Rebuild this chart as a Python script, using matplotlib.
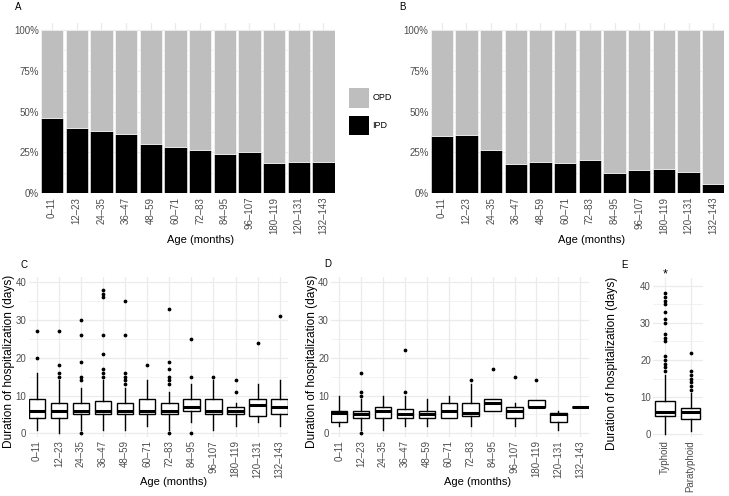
import matplotlib
matplotlib.use("Agg")
import matplotlib.pyplot as plt
from matplotlib.patches import Patch

plt.rcParams["font.family"] = ["Liberation Sans", "DejaVu Sans"]

# --------------------------------------------
# Data
# --------------------------------------------
age_groups = ["0\u201311", "12\u201323", "24\u201335", "36\u201347", "48\u201359", "60\u201371",
              "72\u201383", "84\u201395", "96\u2013107", "180\u2013119", "120\u2013131", "132\u2013143"]

# share of IPD (%) per age group, panels A and B
ipd_a = [45.9, 39.8, 38.4, 36.1, 30.0, 28.2, 26.3, 24.3, 25.5, 18.4, 19.4, 19.4]
ipd_b = [34.9, 35.7, 26.7, 18.0, 19.0, 18.8, 20.2, 12.7, 14.1, 15.1, 12.9, 5.9]

# panel C boxplots (duration of hospitalization, days)
c_q1 = [4, 4, 5, 5, 5, 5, 5, 6, 5, 5, 4.5, 5]
c_med = [6, 6, 6, 6, 6, 6, 6, 7, 6, 6, 7.5, 7]
c_q3 = [9, 8, 8, 8.5, 8, 9, 8, 9, 9, 7, 9, 9]
c_lo = [1, 0, 1, 1, 1, 2, 1, 3, 1, 2, 3, 2]
c_hi = [16, 14, 12, 14, 12, 14, 11, 13, 14, 8, 13, 14]
c_out = [[20, 27], [15, 16, 18, 27], [0, 14, 15, 19, 26, 30],
         [15, 16, 17, 21, 26, 36, 37, 38], [13, 14, 15, 16, 26, 35], [18],
         [0, 13, 14, 15, 17, 19, 33], [0, 15, 25], [15], [11, 14], [24], [31]]

# panel D boxplots
d_q1 = [3, 4, 4, 4, 4, 4, 4.5, 6, 4, 7, 3, 7]
d_med = [5.5, 5, 6, 5, 5, 6, 5.5, 8, 6, 7, 5, 7]
d_q3 = [6, 6, 7, 6.5, 6, 8, 8, 9, 7, 8.75, 5.5, 7]
d_lo = [2, 1, 1, 2, 2, 4, 2, 6, 2, 7, 1, 7]
d_hi = [10, 9, 10, 10, 9, 10, 13, 9, 8, 8.75, 6, 7]
d_out = [[], [0, 10, 11, 16], [], [11, 22], [], [], [14], [17], [15], [14], [], []]

# panel E boxplots
fever_types = ["Typhoid", "Paratyphoid"]
e_q1 = [5, 4]
e_med = [6, 6]
e_q3 = [9, 7]
e_lo = [0, 1]
e_hi = [16, 11]
e_out = [[17, 18, 19, 20, 21, 25, 26, 27, 30, 31, 33, 35, 36, 37, 38],
         [12, 13, 14, 15, 16, 17, 22]]

opd_color = "#BEBEBE"
ipd_color = "black"
grid_color = "#EBEBEB"
tick_color = "#4D4D4D"

W, H = 729, 496
fig = plt.figure(figsize=(W / 100, H / 100), dpi=100)


def rect(l, t, r, b):
    return [l / W, 1 - b / H, (r - l) / W, (b - t) / H]


def fpt(x, y):
    return (x / W, 1 - y / H)


def style(ax):
    for s in ax.spines.values():
        s.set_visible(False)
    ax.set_axisbelow(True)
    ax.grid(which="major", color=grid_color, linewidth=0.9)
    ax.grid(which="minor", axis="y", color=grid_color, linewidth=0.45)
    ax.tick_params(which="both", length=0, pad=2.5, labelsize=7, colors=tick_color)
    ax.tick_params(axis="y", which="both", pad=1.5)


def make_stats(q1, med, q3, lo, hi, out):
    return [dict(q1=a, med=b, q3=c, whislo=d, whishi=e, fliers=f)
            for a, b, c, d, e, f in zip(q1, med, q3, lo, hi, out)]


# --------------------------------------------
# Panels A and B: stacked proportions
# --------------------------------------------
def bar_panel(r, ipd, label_x):
    ax = fig.add_axes(r)
    x = list(range(len(age_groups)))
    opd = [100 - v for v in ipd]
    ax.bar(x, ipd, width=0.9, color=ipd_color, edgecolor="white", linewidth=0.4)
    ax.bar(x, opd, bottom=ipd, width=0.9, color=opd_color, edgecolor="white", linewidth=0.4)
    ax.set_xlim(-0.45, len(age_groups) - 0.55)
    ax.set_ylim(0, 104.1)
    ax.set_yticks([0, 25, 50, 75, 100])
    ax.set_yticklabels(["0%", "25%", "50%", "75%", "100%"])
    ax.set_yticks([12.5, 37.5, 62.5, 87.5], minor=True)
    ax.set_xticks(x)
    ax.set_xticklabels(age_groups, rotation=90)
    style(ax)
    ax.set_xlabel("Age (months)", fontsize=8)
    ax.xaxis.set_label_coords(*fpt(label_x, 235), transform=fig.transFigure)
    return ax


ax_a = bar_panel(rect(41, 23.3, 334.5, 193.3), ipd_a, 200.7)
ax_b = bar_panel(rect(430.7, 23.3, 724.3, 193.3), ipd_b, 592)

fig.legend(handles=[Patch(facecolor=opd_color, label="OPD"),
                    Patch(facecolor=ipd_color, label="IPD")],
           loc="upper left", bbox_to_anchor=fpt(349, 87.7), frameon=False,
           fontsize=6.5, handlelength=2.2, handleheight=3.0, handletextpad=0.4,
           labelspacing=0.9, borderpad=0, borderaxespad=0)

# --------------------------------------------
# Panels C, D, E: boxplots
# --------------------------------------------
box_kw = dict(widths=0.75, showcaps=False, patch_artist=True,
              boxprops=dict(facecolor="white", edgecolor="black", linewidth=1.0),
              medianprops=dict(color="black", linewidth=2.2, solid_capstyle="butt"),
              whiskerprops=dict(color="black", linewidth=1.0),
              flierprops=dict(marker="o", markersize=1.7, markerfacecolor="black",
                              markeredgecolor="black", linestyle="none"))


def box_panel(r, stats, labels, ylim, xlim, xlabel_x, ylabel_pos):
    ax = fig.add_axes(r)
    pos = list(range(1, len(labels) + 1))
    ax.bxp(stats, positions=pos, **box_kw)
    ax.set_xlim(*xlim)
    ax.set_ylim(*ylim)
    ax.set_xticks(pos)
    ax.set_xticklabels(labels, rotation=90)
    ax.set_yticks([0, 10, 20, 30, 40])
    ax.set_yticks([5, 15, 25, 35], minor=True)
    style(ax)
    ax.set_ylabel("Duration of hospitalization (days)", fontsize=8.6)
    ax.yaxis.set_label_coords(*fpt(*ylabel_pos), transform=fig.transFigure)
    if xlabel_x is not None:
        ax.set_xlabel("Age (months)", fontsize=8)
        ax.xaxis.set_label_coords(*fpt(xlabel_x, 477), transform=fig.transFigure)
    return ax


ax_c = box_panel(rect(28.5, 276.6, 288, 436.7),
                 make_stats(c_q1, c_med, c_q3, c_lo, c_hi, c_out),
                 age_groups, (-0.9, 41.5), (0.625, 12.375), 173.3, (15.5, 361.7))
ax_d = box_panel(rect(331, 276.6, 588.5, 436.7),
                 make_stats(d_q1, d_med, d_q3, d_lo, d_hi, d_out),
                 age_groups, (-0.9, 41.5), (0.625, 12.375), 477.5, (317.5, 361))
ax_e = box_panel(rect(653, 277.9, 703, 436.5),
                 make_stats(e_q1, e_med, e_q3, e_lo, e_hi, e_out),
                 fever_types, (-0.6, 42.1), (0.53, 2.48), None, (617.5, 363))
ax_e.text(1, 43.1, "*", ha="center", va="center", fontsize=9, clip_on=False)

# panel letters
for letter, (px, py) in zip("ABCDE", [(18.3, 6.7), (402, 6.7), (24, 265), (328, 264), (624, 265)]):
    fig.text(*fpt(px, py), letter, fontsize=7, ha="center", va="center")

fig.savefig("out.png", dpi=100)
